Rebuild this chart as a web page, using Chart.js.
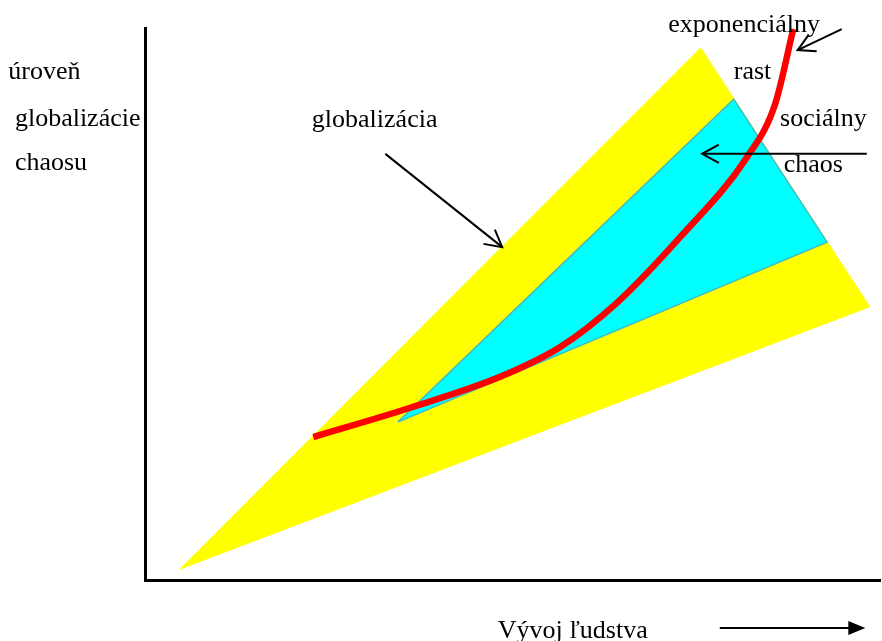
<!DOCTYPE html>
<html>
<head>
<meta charset="utf-8">
<script src="https://cdn.jsdelivr.net/npm/chart.js@4.4.1/dist/chart.umd.min.js"></script>
<style>
  html, body { margin: 0; padding: 0; background: #fff; }
  #wrap { width: 882px; height: 641px; position: relative; }
</style>
</head>
<body>
<div id="wrap"><canvas id="grafica"></canvas></div>
<script>
// polygony (x = vyvoj, y = uroven), jednotky 0-100
const zltaX = [4.8, 75.6, 98.6];
const zltaY = [2.0, 96.4, 49.5];
const modraX = [34.4, 80.1, 92.8];
const modraY = [28.6, 87.1, 61.2];

// cervena krivka - exponencialny rast
const rastX = [22.9, 36.1, 48.3, 56.5, 64.2, 72.8, 81.9, 85.7, 88.2];
const rastY = [25.9, 31.2, 36.8, 42.2, 50.2, 62.1, 76.6, 86.1, 99.8];

// sipky: [odkial x, odkial y, kam x, kam y]
const sipkaGlob = [32.7, 77.2, 48.6, 60.3];
const sipkaRast = [94.8, 99.8, 88.8, 96.0];
const sipkaChaos = [98.2, 77.2, 75.8, 77.2];
const sipkaVyvoj = [78.2, -8.7, 98.0, -8.7];

// texty
const popisy = ['úroveň', 'globalizácie', 'chaosu', 'globalizácia', 'exponenciálny', 'rast', 'sociálny', 'chaos', 'Vývoj ľudstva'];
const popisyX = [-18.6, -17.7, -17.7, 22.7, 71.2, 80.1, 86.4, 86.9, 48.0];
const popisyY = [90.8, 82.2, 74.3, 82.1, 99.3, 90.8, 82.2, 73.9, -10.5];

const graphic = document.getElementById('grafica');

function body(xs, ys) {
    return xs.map((x, i) => ({ x: x, y: ys[i] }));
}
function sipka(s) {
    return [{ x: s[0], y: s[1] }, { x: s[2], y: s[3] }];
}

const polygon = (xs, ys, farba, okraj, hrubka, poradie) => ({
    data: body(xs.concat([xs[0]]), ys.concat([ys[0]])),
    showLine: true,
    fill: 'shape',
    backgroundColor: farba,
    borderColor: okraj,
    borderWidth: hrubka,
    pointRadius: 0,
    tension: 0,
    order: poradie
});

const ciara = (s, poradie) => ({
    data: sipka(s),
    showLine: true,
    borderColor: '#000',
    borderWidth: 2,
    pointRadius: 0,
    fill: false,
    clip: false,
    order: poradie
});

// hroty sipok a texty
const kreslenie = {
    id: 'kreslenie',
    afterDatasetsDraw(chart) {
        const ctx = chart.ctx;
        const sx = chart.scales.x, sy = chart.scales.y;
        ctx.save();
        ctx.strokeStyle = '#000';
        ctx.fillStyle = '#000';
        ctx.lineWidth = 2;
        [sipkaGlob, sipkaRast, sipkaChaos].forEach(s => {
            const x1 = sx.getPixelForValue(s[0]), y1 = sy.getPixelForValue(s[1]);
            const x2 = sx.getPixelForValue(s[2]), y2 = sy.getPixelForValue(s[3]);
            const a = Math.atan2(y2 - y1, x2 - x1);
            const d = 19, u = 0.5;
            ctx.beginPath();
            ctx.moveTo(x2 - d * Math.cos(a - u), y2 - d * Math.sin(a - u));
            ctx.lineTo(x2, y2);
            ctx.lineTo(x2 - d * Math.cos(a + u), y2 - d * Math.sin(a + u));
            ctx.stroke();
        });
        // plny hrot dole
        const tx = sx.getPixelForValue(sipkaVyvoj[2]), ty = sy.getPixelForValue(sipkaVyvoj[3]);
        ctx.beginPath();
        ctx.moveTo(tx, ty);
        ctx.lineTo(tx - 17, ty - 7);
        ctx.lineTo(tx - 17, ty + 7);
        ctx.closePath();
        ctx.fill();

        ctx.font = '26px "Liberation Serif", "Times New Roman", serif';
        ctx.textBaseline = 'alphabetic';
        ctx.textAlign = 'left';
        popisy.forEach((t, i) => {
            ctx.fillText(t, sx.getPixelForValue(popisyX[i]), sy.getPixelForValue(popisyY[i]));
        });
        ctx.restore();
    }
};

const config = {
    type: 'scatter',
    data: {
        datasets: [
            polygon(zltaX, zltaY, '#ffff00', '#ffff00', 1, 5),
            polygon(modraX, modraY, '#00ffff', '#40bcc4', 1.5, 4),
            {
                data: body(rastX, rastY),
                showLine: true,
                borderColor: '#ff0000',
                borderWidth: 6.5,
                pointRadius: 0,
                cubicInterpolationMode: 'monotone',
                fill: false,
                clip: false,
                order: 1
            },
            ciara(sipkaGlob, 0),
            ciara(sipkaRast, 0),
            ciara(sipkaChaos, 0),
            ciara([sipkaVyvoj[0], sipkaVyvoj[1], sipkaVyvoj[2] - 2, sipkaVyvoj[3]], 0)
        ]
    },
    options: {
        responsive: true,
        maintainAspectRatio: false,
        animation: false,
        layout: { padding: { left: 145, top: 28, right: 2, bottom: 61 } },
        plugins: { legend: { display: false }, tooltip: { enabled: false } },
        scales: {
            x: {
                type: 'linear', min: 0, max: 100,
                grid: { display: false, drawTicks: false },
                border: { display: true, color: '#000', width: 3 },
                ticks: { display: false }
            },
            y: {
                type: 'linear', min: 0, max: 100,
                grid: { display: false, drawTicks: false },
                border: { display: true, color: '#000', width: 3 },
                ticks: { display: false }
            }
        }
    },
    plugins: [kreslenie]
};

new Chart(graphic, config);
</script>
</body>
</html>
